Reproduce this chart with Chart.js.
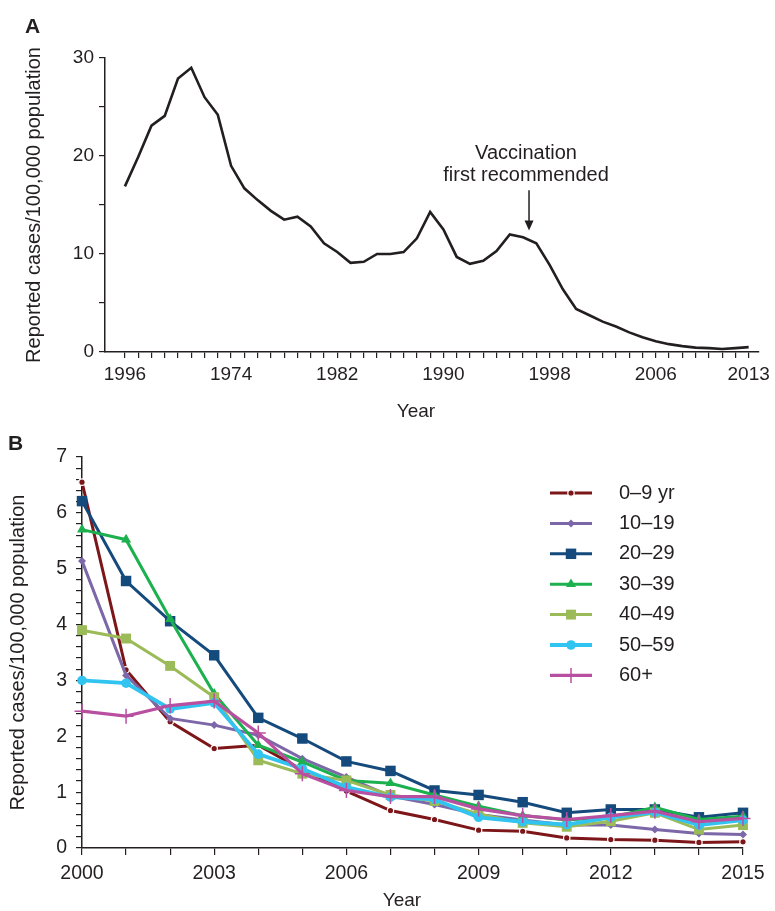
<!DOCTYPE html>
<html>
<head>
<meta charset="utf-8">
<script src="https://cdn.jsdelivr.net/npm/chart.js@4.4.0/dist/chart.umd.min.js"></script>
<style>
  body { margin: 0; background: #fff; }
  #wrap { position: relative; width: 775px; height: 911px; }
  canvas { position: absolute; left: 0; }
  #chartA { top: 0; }
  #chartB { top: 430px; }
</style>
</head>
<body>
<div id="wrap">
  <canvas id="chartA" width="775" height="430"></canvas>
  <canvas id="chartB" width="775" height="481"></canvas>
</div>
<script>
const family = '"Liberation Sans", Arial, Helvetica, sans-serif';
const ink = '#231f20';

// Panel A: reported cases per 100,000, 1966-2013
const aYears = [1966, 1967, 1968, 1969, 1970, 1971, 1972, 1973, 1974, 1975, 1976, 1977,
  1978, 1979, 1980, 1981, 1982, 1983, 1984, 1985, 1986, 1987, 1988, 1989, 1990, 1991,
  1992, 1993, 1994, 1995, 1996, 1997, 1998, 1999, 2000, 2001, 2002, 2003, 2004, 2005,
  2006, 2007, 2008, 2009, 2010, 2011, 2012, 2013];
const aRates = [16.9, 19.9, 23.1, 24.1, 27.9, 29.0, 26.0, 24.2, 19.0, 16.7, 15.5, 14.4,
  13.5, 13.8, 12.8, 11.1, 10.2, 9.1, 9.2, 10.0, 10.0, 10.2, 11.6, 14.3, 12.5, 9.7,
  9.0, 9.3, 10.3, 12.0, 11.7, 11.1, 8.9, 6.4, 4.4, 3.75, 3.1, 2.6, 2.0, 1.5,
  1.1, 0.8, 0.6, 0.45, 0.4, 0.3, 0.4, 0.5];
const aTickYears = [1966, 1974, 1982, 1990, 1998, 2006, 2013];
const aTickLabels = ['1996', '1974', '1982', '1990', '1998', '2006', '2013'];
const vaccYear = 1996.45;

// Panel B: by age group, 2000-2015
const bYears = [2000, 2001, 2002, 2003, 2004, 2005, 2006, 2007, 2008, 2009, 2010, 2011, 2012, 2013, 2014, 2015];
const bGroups = ['0–9 yr', '10–19', '20–29', '30–39', '40–49', '50–59', '60+'];
const age0to9   = [6.55, 3.19, 2.26, 1.78, 1.84, 1.40, 1.02, 0.67, 0.51, 0.32, 0.30, 0.18, 0.15, 0.14, 0.10, 0.11];
const age10to19 = [5.14, 3.09, 2.32, 2.20, 2.02, 1.60, 1.27, 0.93, 0.78, 0.60, 0.50, 0.41, 0.41, 0.33, 0.26, 0.24];
const age20to29 = [6.21, 4.78, 4.06, 3.45, 2.33, 1.96, 1.55, 1.38, 1.03, 0.95, 0.82, 0.63, 0.69, 0.69, 0.55, 0.63];
const age30to39 = [5.70, 5.52, 4.10, 2.76, 1.84, 1.54, 1.21, 1.16, 0.95, 0.75, 0.58, 0.50, 0.55, 0.73, 0.51, 0.57];
const age40to49 = [3.90, 3.75, 3.26, 2.70, 1.57, 1.33, 1.21, 0.95, 0.84, 0.61, 0.45, 0.38, 0.48, 0.63, 0.33, 0.41];
const age50to59 = [3.00, 2.95, 2.49, 2.60, 1.68, 1.42, 1.09, 0.91, 0.87, 0.55, 0.47, 0.42, 0.55, 0.64, 0.41, 0.50];
const age60plus = [2.45, 2.36, 2.55, 2.63, 2.06, 1.33, 1.03, 0.92, 0.92, 0.70, 0.58, 0.51, 0.58, 0.66, 0.47, 0.53];
const bSeries = [age0to9, age10to19, age20to29, age30to39, age40to49, age50to59, age60plus];

// look of each age group
const bStyles = [
  { color: '#7d1619', point: 'circle',   radius: 3.2, width: 3,   pBorder: 1.2, pBorderColor: '#fff' },
  { color: '#7c67a9', point: 'rectRot',  radius: 4,   width: 3,   pBorder: 0 },
  { color: '#154a7c', point: 'rect',     radius: 7.4, width: 3,   pBorder: 0 },
  { color: '#1db04e', point: 'triangle', radius: 5.8, width: 3,   pBorder: 0 },
  { color: '#9bbb59', point: 'rect',     radius: 7,   width: 3,   pBorder: 0 },
  { color: '#31c4f0', point: 'circle',   radius: 4.8, width: 3.8, pBorder: 0 },
  { color: '#b94fa0', point: 'cross',    radius: 7.5, width: 3.2, pBorder: 1.5 }
];

function fixedTicks(list) {
  return s => { s.ticks = list.map(v => ({ value: v })); };
}

// letter, x title and annotation for panel A
const panelA = {
  id: 'panelA',
  afterDraw(chart) {
    const ctx = chart.ctx, xs = chart.scales.x, ys = chart.scales.y;
    ctx.save();
    ctx.fillStyle = ink;
    ctx.font = 'bold 21px ' + family;
    ctx.textBaseline = 'alphabetic';
    ctx.fillText('A', 25, 33);

    ctx.font = '19px ' + family;
    ctx.textAlign = 'center';
    ctx.textBaseline = 'middle';
    ctx.fillText('Year', 416, 412);

    const ax = xs.getPixelForValue(vaccYear);
    ctx.font = '20px ' + family;
    ctx.fillText('Vaccination', ax - 3, ys.getPixelForValue(20.3));
    ctx.fillText('first recommended', ax - 3, ys.getPixelForValue(18.0));

    const y0 = ys.getPixelForValue(16.5), y1 = ys.getPixelForValue(12.4);
    ctx.strokeStyle = ink;
    ctx.lineWidth = 1.5;
    ctx.beginPath();
    ctx.moveTo(ax, y0);
    ctx.lineTo(ax, y1 - 8);
    ctx.stroke();
    ctx.beginPath();
    ctx.moveTo(ax - 4.5, y1 - 10);
    ctx.lineTo(ax + 4.5, y1 - 10);
    ctx.lineTo(ax, y1);
    ctx.closePath();
    ctx.fill();
    ctx.restore();
  }
};

// letter, x title and legend for panel B
const panelB = {
  id: 'panelB',
  afterDraw(chart) {
    const ctx = chart.ctx;
    ctx.save();
    ctx.fillStyle = ink;
    ctx.font = 'bold 21px ' + family;
    ctx.textBaseline = 'alphabetic';
    ctx.fillText('B', 8, 20);

    ctx.font = '19px ' + family;
    ctx.textAlign = 'center';
    ctx.textBaseline = 'middle';
    ctx.fillText('Year', 402, 471);

    chart.data.datasets.forEach((ds, i) => {
      const st = bStyles[i];
      const y = 63 + i * 30.4;
      ctx.strokeStyle = st.color;
      ctx.lineWidth = st.width;
      ctx.beginPath();
      ctx.moveTo(550, y);
      ctx.lineTo(592, y);
      ctx.stroke();
      ctx.fillStyle = st.color;
      ctx.strokeStyle = st.pBorderColor || st.color;
      ctx.lineWidth = st.pBorder;
      Chart.helpers.drawPoint(ctx, {
        pointStyle: st.point, radius: st.radius, rotation: 0, borderWidth: st.pBorder
      }, 571, y);
      ctx.fillStyle = ink;
      ctx.font = '20px ' + family;
      ctx.textAlign = 'left';
      ctx.textBaseline = 'middle';
      ctx.fillText(ds.label, 619, y);
    });
    ctx.restore();
  }
};

const axisGrid = { drawOnChartArea: false, drawTicks: true, color: ink, lineWidth: 1.2 };

new Chart(document.getElementById('chartA'), {
  type: 'line',
  data: {
    datasets: [{
      data: aYears.map((yr, i) => ({ x: yr, y: aRates[i] })),
      borderColor: ink,
      borderWidth: 2.6,
      pointRadius: 0,
      tension: 0,
      fill: false
    }]
  },
  options: {
    responsive: false,
    animation: false,
    events: [],
    layout: { padding: { top: 58, right: 13, left: 0, bottom: 0 } },
    plugins: { legend: { display: false }, tooltip: { enabled: false } },
    scales: {
      x: {
        type: 'linear', min: 1964.5, max: 2013.75,
        afterBuildTicks: fixedTicks(aYears),
        afterFit: s => { s.height = 78; },
        grid: Object.assign({ tickLength: 6 }, axisGrid),
        border: { color: ink, width: 1.5 },
        ticks: {
          autoSkip: false, maxRotation: 0, padding: 5, color: ink,
          font: { family, size: 19 },
          callback: v => { const k = aTickYears.indexOf(v); return k < 0 ? '' : aTickLabels[k]; }
        }
      },
      y: {
        min: 0, max: 30,
        afterBuildTicks: fixedTicks([0, 5, 10, 15, 20, 25, 30]),
        afterFit: s => { s.width = 105; },
        grid: Object.assign({ tickLength: 6 }, axisGrid),
        border: { color: ink, width: 1.5 },
        ticks: {
          autoSkip: false, padding: 5, color: ink,
          font: { family, size: 19 },
          callback: v => (v % 10 === 0 ? String(v) : '')
        },
        title: { display: true, text: 'Reported cases/100,000 population', color: ink, font: { family, size: 20, lineHeight: 1 }, padding: { top: 24.5, bottom: 0 } }
      }
    }
  },
  plugins: [panelA]
});

const bYTicks = [];
for (let k = 0; k <= 35; k++) bYTicks.push(k / 5);

new Chart(document.getElementById('chartB'), {
  type: 'line',
  data: {
    datasets: bSeries.map((vals, i) => {
      const st = bStyles[i];
      return {
        label: bGroups[i],
        data: bYears.map((yr, j) => ({ x: yr, y: vals[j] })),
        borderColor: st.color,
        backgroundColor: st.color,
        borderWidth: st.width,
        pointStyle: st.point,
        pointRadius: st.radius,
        pointBackgroundColor: st.color,
        pointBorderColor: st.pBorderColor || st.color,
        pointBorderWidth: st.pBorder,
        tension: 0,
        fill: false,
        clip: false,
        order: 6 - i
      };
    })
  },
  options: {
    responsive: false,
    animation: false,
    events: [],
    layout: { padding: { top: 27, right: 32, left: 0, bottom: 0 } },
    plugins: { legend: { display: false }, tooltip: { enabled: false } },
    scales: {
      x: {
        type: 'linear', min: 2000, max: 2015,
        afterBuildTicks: fixedTicks(bYears),
        afterFit: s => { s.height = 63; },
        grid: Object.assign({ tickLength: 7 }, axisGrid),
        border: { color: ink, width: 1.5 },
        ticks: {
          autoSkip: false, maxRotation: 0, padding: 7, color: ink,
          font: { family, size: 19.5 },
          callback: v => ((v - 2000) % 3 === 0 ? String(v) : '')
        }
      },
      y: {
        min: 0, max: 7,
        afterBuildTicks: fixedTicks(bYTicks),
        afterFit: s => { s.width = 82; },
        grid: Object.assign({ tickLength: 6 }, axisGrid),
        border: { color: ink, width: 1.5 },
        ticks: {
          autoSkip: false, padding: 9, color: ink,
          font: { family, size: 19.5 },
          callback: v => (Number.isInteger(v) ? String(v) : '')
        },
        title: { display: true, text: 'Reported cases/100,000 population', color: ink, font: { family, size: 20, lineHeight: 1 }, padding: { top: 8, bottom: 0 } }
      }
    }
  },
  plugins: [panelB]
});
</script>
</body>
</html>
